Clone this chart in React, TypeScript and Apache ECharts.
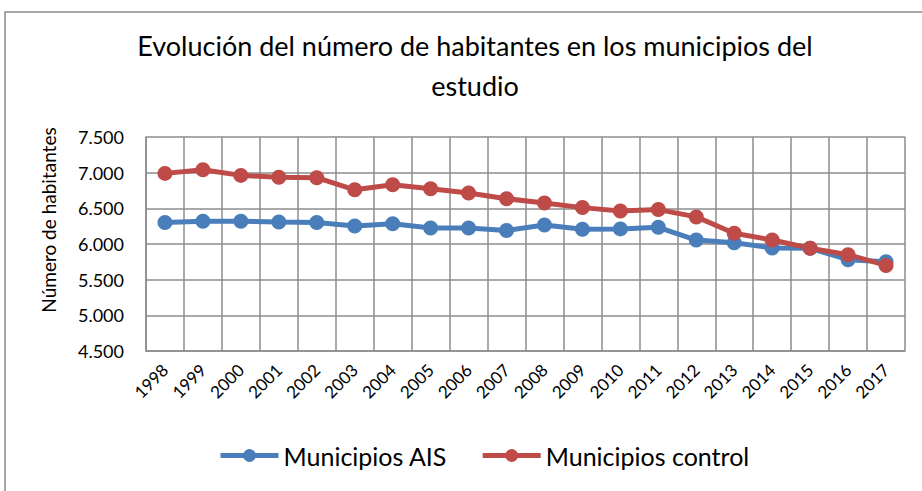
import React, { useEffect, useRef } from "react";
import * as echarts from "echarts";

const years = ["1998","1999","2000","2001","2002","2003","2004","2005","2006","2007","2008","2009","2010","2011","2012","2013","2014","2015","2016","2017"];
const ais = [6300,6320,6320,6308,6300,6252,6285,6225,6225,6190,6266,6208,6212,6234,6056,6018,5945,5940,5780,5752];
const control = [6990,7042,6962,6935,6930,6760,6830,6775,6715,6635,6574,6510,6462,6482,6380,6150,6056,5940,5850,5700];
const titleText = "Evolución del número de habitantes en los municipios del\nestudio";
const yAxisName = "Número de habitantes";
const seriesNames = ["Municipios AIS", "Municipios control"];

const FONT = "Lato, 'Open Sans', sans-serif";

export default function App() {
  const ref = useRef<HTMLDivElement>(null);
  useEffect(() => {
    if (!ref.current) return;
    const chart = echarts.init(ref.current, null, { renderer: "svg" });
    const fmt = (v: number) => {
      const s = String(Math.round(v));
      return s.length > 3 ? s.slice(0, s.length - 3) + "." + s.slice(-3) : s;
    };
    chart.setOption({
      animation: false,
      backgroundColor: "#fff",
      textStyle: { fontFamily: FONT },
      title: {
        text: titleText,
        left: 470,
        textAlign: "center",
        top: 20,
        textStyle: { fontFamily: FONT, fontSize: 27, fontWeight: "normal", color: "#000", lineHeight: 40 },
      },
      graphic: [
        {
          type: "rect",
          shape: { x: 5, y: 12, width: 940, height: 500 },
          style: { fill: "none", stroke: "#8c8c8c", lineWidth: 1.5 },
          silent: true,
        },
        {
          type: "text",
          x: 48,
          y: 220,
          rotation: Math.PI / 2,
          style: {
            text: yAxisName,
            fontSize: 19,
            fontFamily: FONT,
            fill: "#000",
            align: "center",
            verticalAlign: "middle",
          },
          silent: true,
        },
      ],
      legend: {
        bottom: 18,
        left: 213,
        itemWidth: 58,
        itemHeight: 16,
        itemGap: 33,
        lineStyle: { width: 5 },
        textStyle: { fontFamily: FONT, fontSize: 25, color: "#000" },
        data: seriesNames,
      },
      grid: { left: 146, right: 17, top: 137, bottom: 140, containLabel: false },
      xAxis: {
        type: "category",
        data: years,
        boundaryGap: true,
        axisLine: { show: true, lineStyle: { color: "#8c8c8c", width: 1.5 } },
        axisTick: { show: false },
        splitLine: { show: true, lineStyle: { color: "#8c8c8c", width: 1.5 } },
        axisLabel: { rotate: 45, fontSize: 17, color: "#000", fontFamily: FONT, margin: 16, interval: 0 },
      },
      yAxis: {
        type: "value",
        min: 4500,
        max: 7500,
        interval: 500,
        axisLine: { show: true, lineStyle: { color: "#8c8c8c", width: 1.5 } },
        axisTick: { show: false },
        splitLine: { show: true, lineStyle: { color: "#8c8c8c", width: 1.5 } },
        axisLabel: { fontSize: 18, color: "#000", fontFamily: FONT, margin: 22, formatter: fmt },
      },
      series: [
        {
          name: seriesNames[0],
          type: "line",
          data: ais,
          symbol: "circle",
          symbolSize: 15,
          lineStyle: { color: "#4a7ebb", width: 5 },
          itemStyle: { color: "#4a7ebb" },
        },
        {
          name: seriesNames[1],
          type: "line",
          data: control,
          symbol: "circle",
          symbolSize: 15,
          lineStyle: { color: "#be4b48", width: 5 },
          itemStyle: { color: "#be4b48" },
        },
      ],
    });
    return () => chart.dispose();
  }, []);
  return <div ref={ref} style={{ width: 922, height: 491, position: "absolute", left: 0, top: 0 }} />;
}
